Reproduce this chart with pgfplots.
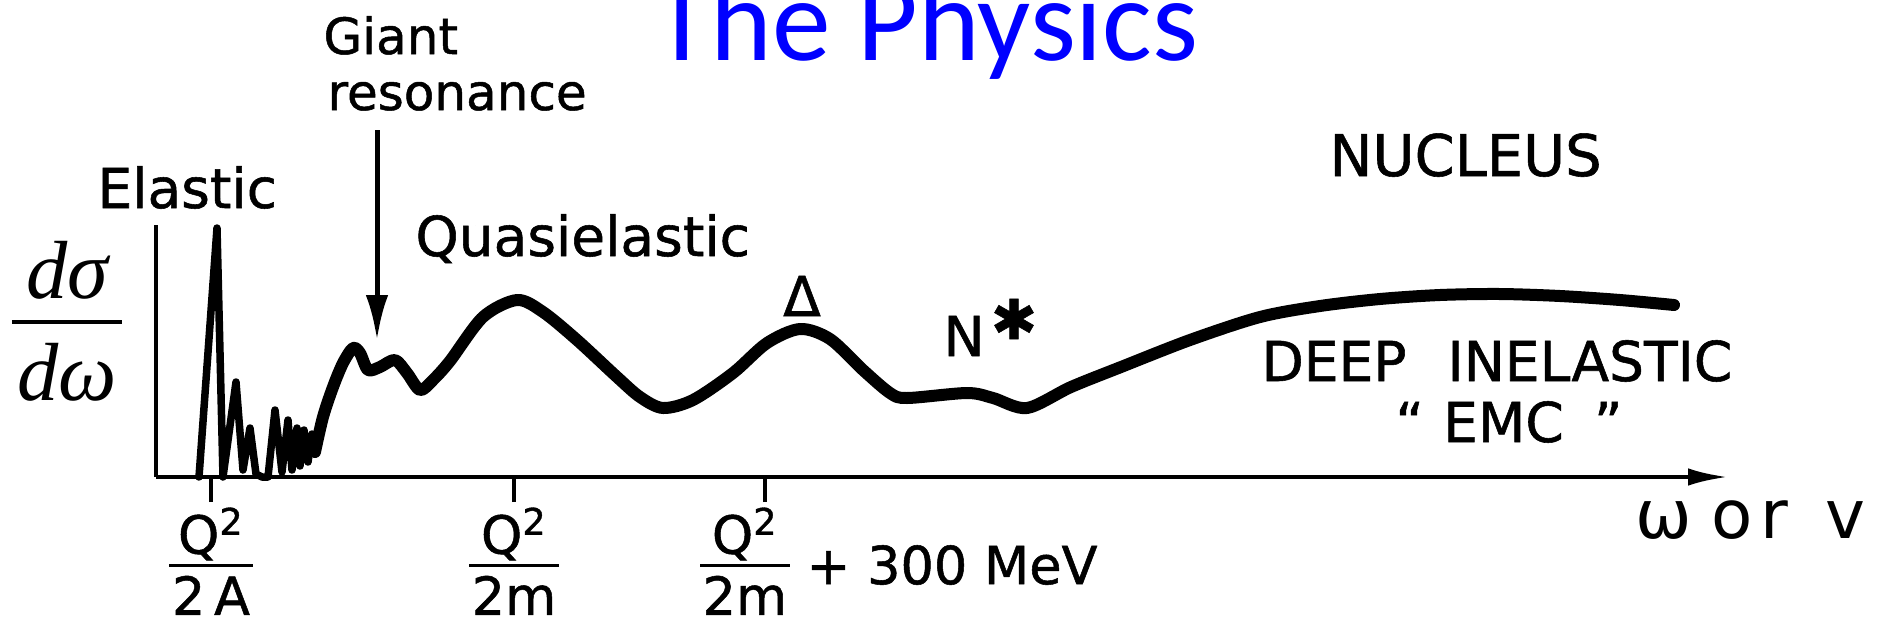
\documentclass[border=0pt]{standalone}
\usepackage{fontspec}
\setmainfont{DejaVu Sans}[FakeBold=1]
\newfontfamily\plainfont{DejaVu Sans}
\newfontfamily\titlefont{Carlito}
\newfontfamily\timesfont{Liberation Serif}
\usepackage{pgfplots}
\pgfplotsset{compat=1.18}
\usetikzlibrary{arrows.meta}
\definecolor{titleblue}{RGB}{0,0,255}

% stacked Q^2 over a denominator, with a heavy fraction bar
\newcommand\qfrac[1]{{\setlength\arrayrulewidth{1.5pt}%
  \begin{tabular}{@{\hspace{0.05em}}c@{\hspace{0.05em}}}%
  Q\textsuperscript{2}\\[-3.5pt]\hline\rule{0pt}{19pt}#1\\[-7.5pt]\end{tabular}}}

\begin{document}
\begin{tikzpicture}
\useasboundingbox (0,0) rectangle (752.4pt,252.4pt);
\clip (0,0) rectangle (752.4pt,252.4pt);
\begin{axis}[
  at={(62.4pt,61.6pt)}, anchor=south west,
  x=0.4pt, y=0.4pt,
  xmin=0, xmax=1572, ymin=0, ymax=252,
  axis lines=left,
  x axis line style={line width=1.8pt, -{Latex[length=16pt,width=7pt]}},
  y axis line style={line width=1.8pt, -},
  ytick=\empty,
  xtick={55,358,609},
  xticklabels={{\qfrac{2\,A}},{\qfrac{2m}},
    {\makebox[0pt][l]{\hspace*{-26pt}\qfrac{2m}\raisebox{-4pt}{\ + 300 MeV}}}},
  tick align=outside,
  major tick length=10pt,
  tick style={line width=1.8pt, black},
  xticklabel style={font=\fontsize{21}{25}\selectfont, anchor=north,
    inner sep=0pt, yshift=-2pt},
  clip=false,
]
% elastic peak and the discrete low-lying levels
\addplot[black, line width=3pt, line join=round, line cap=round] coordinates {
  (43,0) (61,249) (67,0) (80,95) (87,7) (94,49) (100,3) (106,0) (112,0)
  (119,67) (126,5) (132,57) (136,7) (141,49) (144,11) (148,47) (152,15)
  (156,43) (159,25)
};
% giant resonance, quasielastic peak, Delta, N*, deep inelastic
\addplot[black, line width=4.8pt, smooth, line join=round, line cap=round] coordinates {
  (159,25) (167,60) (177,90) (187,114) (197,129) (204,124) (212,107)
  (224,110) (239,117) (251,104) (264,87) (277,97) (294,116) (327,160)
  (361,177) (387,165) (421,137) (461,100) (484,80) (507,69) (537,77)
  (577,104) (611,134) (644,148) (674,138) (707,107) (734,84) (751,79)
  (811,84) (837,79) (871,69) (915,90) (965,110) (1034,137) (1104,160)
  (1164,171) (1224,178) (1284,182) (1344,183) (1404,181) (1464,177)
  (1518,172)
};

% title
\node[font=\titlefont\fontsize{47}{56}\selectfont, text=titleblue, anchor=base, inner sep=0pt]
  at (axis cs:770,417) {The Physics};

% y-axis quantity
\node[font=\timesfont\itshape\fontsize{33}{40}\selectfont, anchor=base, inner sep=0pt]
  at (axis cs:-89,179) {dσ};
\node[font=\timesfont\itshape\fontsize{33}{40}\selectfont, anchor=base, inner sep=0pt]
  at (axis cs:-89,77) {dω};
\draw[line width=1.6pt] (axis cs:-144,155) -- (axis cs:-34,155);

% region labels
\node[font=\fontsize{22}{26}\selectfont, anchor=base west, inner sep=0pt]
  at (axis cs:-59,269) {Elastic};
\node[font=\fontsize{20}{24}\selectfont, anchor=base west, inner sep=0pt]
  at (axis cs:167,423) {Giant};
\node[font=\fontsize{20}{24}\selectfont, anchor=base west, inner sep=0pt]
  at (axis cs:171,367) {resonance};
\draw[line width=2pt, -{Latex[length=18pt,width=9pt]}]
  (axis cs:221,347) -- (axis cs:221,137);
\node[font=\fontsize{22}{26}\selectfont, anchor=base west, inner sep=0pt]
  at (axis cs:259,221) {Quasielastic};
\node[font=\fontsize{22}{26}\selectfont, anchor=base, inner sep=0pt]
  at (axis cs:646,161) {Δ};
\node[font=\fontsize{22}{26}\selectfont, anchor=base west, inner sep=0pt]
  at (axis cs:787,121) {N};
\node[font=\fontsize{22}{24}\selectfont, anchor=center, inner sep=0pt]
  at (axis cs:858,158) {✱};
\node[font=\fontsize{23}{27}\selectfont, anchor=base west, inner sep=0pt]
  at (axis cs:1173,301) {NUCLEUS};
\node[font=\fontsize{22}{26}\selectfont, anchor=base west, inner sep=0pt]
  at (axis cs:1105,96) {DEEP};
\node[font=\fontsize{22}{26}\selectfont, anchor=base west, inner sep=0pt]
  at (axis cs:1291,96) {INELASTIC};
\node[font=\fontsize{22}{26}\selectfont, anchor=base, inner sep=0pt]
  at (axis cs:1353,35) {“\hspace{0.35em}EMC\hspace{0.55em}”};
\node[font=\plainfont\fontsize{27}{32}\selectfont, anchor=base west, inner sep=0pt]
  at (axis cs:1479,-61) {ω};
\node[font=\plainfont\fontsize{27}{32}\selectfont, anchor=base west, inner sep=0pt]
  at (axis cs:1555,-61) {o\hspace{0.12em}r\hspace{0.55em}v};
\end{axis}
\end{tikzpicture}
\end{document}
